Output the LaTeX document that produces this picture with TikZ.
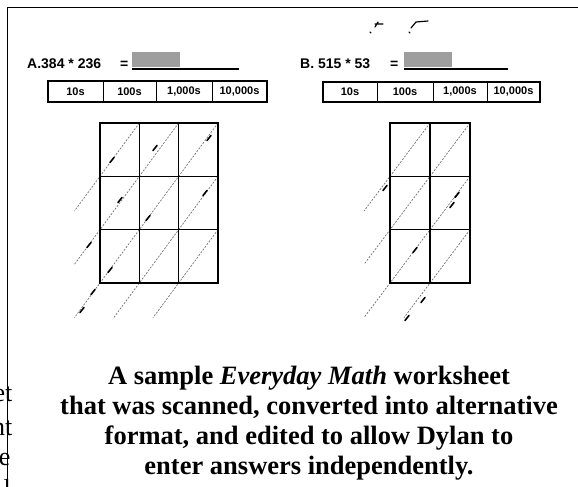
\documentclass[tikz,border=0pt]{standalone}
\usepackage{fontspec}
\setmainfont{Liberation Serif}
\setsansfont{Liberation Sans}
\definecolor{answerfill}{RGB}{158,158,158}
\tikzset{
  gridline/.style={line width=1.6pt, line cap=rect},
  diagline/.style={black!55, dash pattern=on 2pt off 1.4pt, line width=0.7pt},
  scribble/.style={line width=1.6pt, line cap=round},
  placebox/.style={line width=1.8pt},
  placelabel/.style={font=\sffamily\bfseries\fontsize{11}{12}\selectfont},
  problem/.style={font=\sffamily\bfseries\fontsize{14}{15}\selectfont, anchor=base west, inner sep=0pt},
  captionline/.style={font=\bfseries\fontsize{26.5}{30}\selectfont, anchor=base, inner sep=0pt},
  margintext/.style={font=\fontsize{26}{30}\selectfont, anchor=base east, inner sep=0pt}
}
\begin{document}
\begin{tikzpicture}[x=1pt,y=-1pt]
\useasboundingbox (0,0) rectangle (578,487);
\clip (0,0) rectangle (578,487);
% page frame and cut text of the next column
\draw[line width=1.2pt] (7.5,487) -- (7.5,7.5) -- (578,7.5);
\node[margintext] (mA) at (12.5,401) {et};
\node[margintext] (mB) at (12.5,435) {nt};
\node[margintext] (mC) at (10.5,465) {e};
\node[margintext] (mD) at (11,497) {l};

% problem A
\node[problem] (probA) at (27,68) {A.384 * 236};
\node[problem] (eqA) at (120,68) {=};
\fill[answerfill] (132,52) rectangle (180,67);
\draw[line width=1.2pt] (132,69) -- (239,69);
\draw[placebox] (48,81) rectangle (267,102);
\foreach \x in {103,156,212} \draw[line width=0.9pt] (\x,81) -- (\x,102);
\foreach \x/\t [count=\i] in {75.5/10s,129.5/100s,184/{1,000s},239.5/{10,000s}}
  \node[placelabel] (colA\i) at (\x,91.5) {\t};

% problem B
\node[problem] (probB) at (300,68) {B. 515 * 53};
\node[problem] (eqB) at (390,68) {=};
\fill[answerfill] (404,52) rectangle (452,67);
\draw[line width=1.2pt] (404,69) -- (508,69);
\draw[placebox] (323,82) rectangle (540,102);
\foreach \x in {377,433,487} \draw[line width=0.9pt] (\x,82) -- (\x,102);
\foreach \x/\t [count=\i] in {350/10s,405/100s,460/{1,000s},513.5/{10,000s}}
  \node[placelabel] (colB\i) at (\x,92) {\t};
% carries
\draw[scribble, line width=1.2pt] (370,32) -- (371,33);
\draw[scribble, line width=1.2pt] (375,27) -- (378,22) (375,24) -- (383,24);
\draw[scribble, line width=1.2pt] (409,32) -- (410,33);
\draw[scribble, line width=1.2pt] (411,28) -- (416,22) -- (428,21);

% lattice A
\begin{scope}[shift={(100,123)}, x=39.33pt, y=-53.33pt]
\foreach \s in {1,2,3} \draw[diagline] (\s,0) -- (-0.65,\s+0.65);
\foreach \s in {1,2} \draw[diagline] (3,\s) -- (\s-0.65,3.65);
\foreach \i in {0,...,3} \draw[gridline] (\i,0) -- (\i,3);
\foreach \j in {0,...,3} \draw[gridline] (0,\j) -- (3,\j);
\end{scope}
\foreach \x/\y in {112/160,155/148,209/138,120/200,148/218,205/193,89/245,110/270,93/292,82/310}
  \draw[scribble] (\x+2,\y-2.5) -- (\x-2,\y+2.5);

% lattice B
\begin{scope}[shift={(390,123)}, x=40pt, y=-53.33pt]
\foreach \s in {1,2} \draw[diagline] (\s,0) -- (-0.65,\s+0.65);
\foreach \s in {1,2} \draw[diagline] (2,\s) -- (\s-1.65,3.65);
\foreach \i in {0,...,2} \draw[gridline] (\i,0) -- (\i,3);
\foreach \j in {0,...,3} \draw[gridline] (0,\j) -- (2,\j);
\end{scope}
\foreach \x/\y in {385/188,457/195,452/205,415/250,423/300,407/318}
  \draw[scribble] (\x+2,\y-2.5) -- (\x-2,\y+2.5);

% caption
\node[captionline] (cap1) at (309,384) {A sample \textit{Everyday Math} worksheet};
\node[captionline] (cap2) at (309,414) {that was scanned, converted into alternative};
\node[captionline] (cap3) at (309,444) {format, and edited to allow Dylan to};
\node[captionline] (cap4) at (309,474) {enter answers independently.};
\end{tikzpicture}
\end{document}
